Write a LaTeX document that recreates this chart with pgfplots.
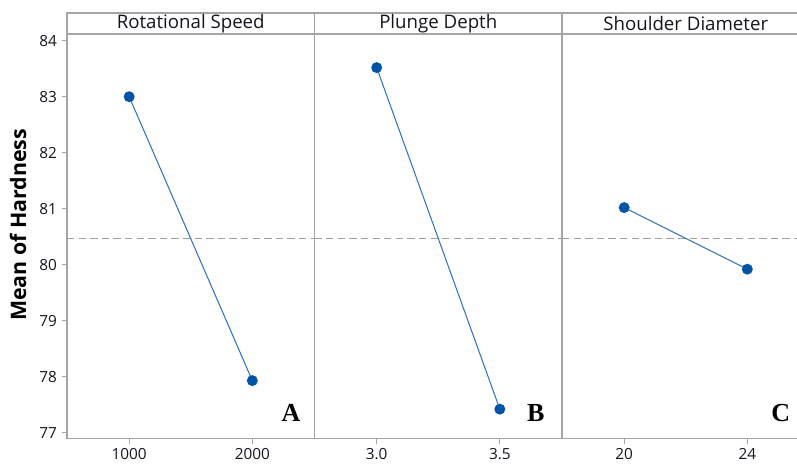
\documentclass[border=0pt]{standalone}
\usepackage{pgfplots}
\pgfplotsset{compat=1.18}
\usepackage{fontspec}
\setmainfont{Open Sans}
\newfontfamily\serifb{Liberation Serif}
\definecolor{frame}{RGB}{165,165,165}
\definecolor{ln}{RGB}{40,110,195}
\definecolor{mk}{RGB}{0,84,166}
\definecolor{meanc}{RGB}{160,160,160}
\definecolor{txt}{RGB}{20,20,30}

\tikzset{letter/.style={font=\serifb\bfseries\fontsize{19.5}{21}\selectfont, anchor=center}}
\pgfplotsset{
  panel/.style={
    scale only axis, width=185.625pt, height=303.375pt,
    anchor=south west,
    ymin=76.896, ymax=84.12,
    axis line style={frame, line width=0.9pt},
    tick style={frame, line width=0.9pt},
    major tick length=4pt,
    tick align=outside,
    xtick pos=bottom, ytick pos=left,
    /pgf/number format/assume math mode=true,
    /pgf/number format/1000 sep={},
    tick label style={font=\fontsize{11.5}{13}\selectfont, text=txt},
    clip=false,
  },
  ser/.style={ln, line width=0.75pt, mark=*, mark size=3.7pt,
    mark options={mk, fill=mk, draw=mk}},
  meanl/.style={meanc, line width=0.9pt, dash pattern=on 5.5pt off 3.2pt},
}

\begin{document}
\begin{tikzpicture}
\useasboundingbox (0,0) rectangle (597.75pt,-348pt);
\clip (0,0) rectangle (597.75pt,-348pt);

% Panel A
\begin{axis}[panel, name=a1, at={(50.25pt,-328.875pt)},
  xmin=495, xmax=2505, xtick={1000,2000},
  ytick={77,78,79,80,81,82,83,84},
  ylabel={Mean of Hardness},
  ylabel style={font=\fontsize{16}{18}\selectfont\bfseries, text=black,
    at={(axis description cs:-0.198,0.528)}, anchor=center}]
  \addplot[meanl] coordinates {(495,80.465) (2505,80.465)};
  \addplot[ser] coordinates {(1000,83.00) (2000,77.93)};
  \node[letter] at (axis cs:2314,77.35) {A};
\end{axis}

% Panel B
\begin{axis}[panel, name=a2, at={(235.875pt,-328.875pt)},
  xmin=2.7475, xmax=3.7525, xtick={3.0,3.5},
  xticklabel style={/pgf/number format/.cd, fixed, fixed zerofill, precision=1},
  ytick=\empty]
  \addplot[meanl] coordinates {(2.7475,80.465) (3.7525,80.465)};
  \addplot[ser] coordinates {(3.0,83.52) (3.5,77.42)};
  \node[letter] at (axis cs:3.646,77.35) {B};
\end{axis}

% Panel C
\begin{axis}[panel, name=a3, at={(421.5pt,-328.875pt)},
  xmin=17.98, xmax=26.02, xtick={20,24},
  ytick=\empty]
  \addplot[meanl] coordinates {(17.98,80.465) (26.02,80.465)};
  \addplot[ser] coordinates {(20,81.02) (24,79.92)};
  \node[letter] at (axis cs:25.09,77.35) {C};
\end{axis}

% Strip headers
\foreach \n/\t in {a1/Rotational Speed, a2/Plunge Depth, a3/Shoulder Diameter}{
  \draw[frame, line width=0.9pt] (\n.north west) rectangle ([yshift=15.75pt]\n.north east);
  \node[font=\fontsize{14}{15}\selectfont, text=txt, anchor=center]
    at ([yshift=7.875pt]\n.north) {\t};
}
\end{tikzpicture}
\end{document}
